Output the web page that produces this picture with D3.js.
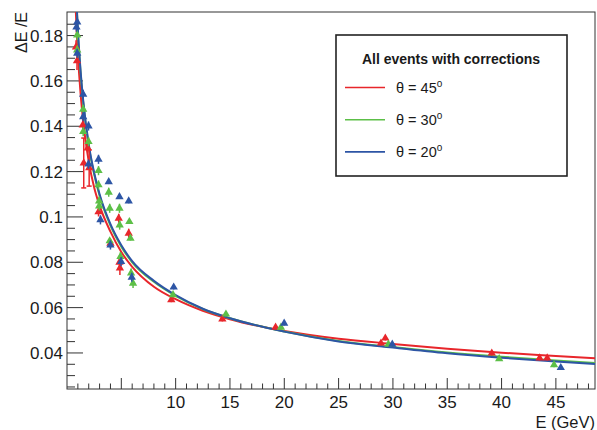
<!DOCTYPE html>
<html>
<head>
<meta charset="utf-8">
<script src="https://cdn.jsdelivr.net/npm/d3@7"></script>
<style>
  body { margin: 0; background: #fff; }
  text { font-family: "Liberation Sans", Arial, sans-serif; fill: #1a1a1a; }
</style>
</head>
<body>
<svg id="chart" width="597" height="430"></svg>
<script>
// measured points, theta = 45 / 30 / 20 deg
const energy45 = [0.83, 0.92, 1.45, 1.91, 1.54, 2.04, 2.9, 4.76, 5.68, 4.0, 4.83, 4.87, 9.6, 14.3, 19.2, 29.3, 28.9, 39.1, 43.5, 44.2];
const reso45 = [0.1749, 0.1688, 0.1405, 0.1304, 0.1238, 0.1216, 0.1022, 0.0994, 0.0928, 0.0884, 0.0800, 0.0774, 0.0634, 0.0549, 0.0513, 0.0465, 0.0443, 0.0399, 0.0377, 0.0377];
const err45 = [0.003, 0.004, 0.002, 0.002, 0.011, 0.008, 0.002, 0.002, 0.002, 0.002, 0.003, 0.003, 0.001, 0.001, 0.001, 0.001, 0.001, 0.001, 0.001, 0.001];

const energy30 = [0.94, 0.94, 1.49, 1.49, 1.98, 2.9, 2.9, 3.84, 2.96, 2.96, 3.93, 4.83, 5.74, 4.85, 5.84, 3.93, 4.92, 5.9, 6.08, 9.76, 14.63, 19.69, 29.58, 39.78, 44.83];
const reso30 = [0.1802, 0.1736, 0.1475, 0.1376, 0.1332, 0.1204, 0.1141, 0.1109, 0.1070, 0.1048, 0.1038, 0.1038, 0.0979, 0.0964, 0.0906, 0.0894, 0.0825, 0.0752, 0.0707, 0.0656, 0.0571, 0.0513, 0.0438, 0.0374, 0.0347];
const err30 = [0.002, 0.002, 0.002, 0.002, 0.002, 0.002, 0.002, 0.002, 0.002, 0.002, 0.002, 0.002, 0.001, 0.002, 0.001, 0.001, 0.002, 0.002, 0.002, 0.001, 0.001, 0.001, 0.001, 0.001, 0.001];

const energy20 = [0.94, 0.87, 0.94, 1.49, 1.49, 1.98, 1.98, 2.9, 3.84, 4.83, 5.68, 3.08, 4.0, 4.98, 5.96, 9.82, 19.99, 29.94, 45.45];
const reso20 = [0.1860, 0.1837, 0.1722, 0.1541, 0.1442, 0.1401, 0.1233, 0.1254, 0.1155, 0.1089, 0.1070, 0.0987, 0.0876, 0.0803, 0.0734, 0.0690, 0.0531, 0.0438, 0.0335];
const err20 = [0.002, 0.002, 0.002, 0.002, 0.002, 0.002, 0.002, 0.002, 0.001, 0.001, 0.001, 0.002, 0.002, 0.002, 0.002, 0.001, 0.001, 0.001, 0.001];

// fitted curves
const curveEnergy = [0.75, 0.9, 1, 1.25, 1.5, 2, 2.5, 3, 4, 5, 6, 8, 10, 12.5, 15, 20, 25, 30, 35, 40, 45, 48.6];
const fit45 = [0.1978, 0.1809, 0.1719, 0.1545, 0.1418, 0.1245, 0.1130, 0.1050, 0.0935, 0.0845, 0.0780, 0.0692, 0.0637, 0.0586, 0.0549, 0.0497, 0.0463, 0.0440, 0.0419, 0.0401, 0.0387, 0.0377];
const fit30 = [0.2095, 0.1915, 0.1818, 0.1637, 0.1502, 0.1312, 0.1188, 0.1093, 0.0962, 0.0869, 0.0800, 0.0714, 0.0652, 0.0594, 0.0553, 0.0495, 0.0453, 0.0426, 0.0402, 0.0383, 0.0367, 0.0356];
const fit20 = [0.2106, 0.1925, 0.1828, 0.1645, 0.1510, 0.1320, 0.1195, 0.1100, 0.0968, 0.0875, 0.0805, 0.0718, 0.0655, 0.0595, 0.0553, 0.0494, 0.0451, 0.0424, 0.0399, 0.0379, 0.0362, 0.0351];

const xTicks = [10, 15, 20, 25, 30, 35, 40, 45];
const yTicks = [0.04, 0.06, 0.08, 0.1, 0.12, 0.14, 0.16, 0.18];
const legendTitle = 'All events with corrections';
const legendAngles = ['45', '30', '20'];

const colors = ['#e8262b', '#5cbf47', '#2d55a5'];

const frame = { left: 67, right: 595, top: 12, bottom: 389 };
const svg = d3.select('#chart');

const x = d3.scaleLinear().domain([0, 48.6]).range([frame.left, frame.right]);
const y = d3.scaleLinear().domain([0.0241, 0.1904]).range([frame.bottom, frame.top]);

svg.append('defs').append('clipPath').attr('id', 'plot-clip')
  .append('rect')
  .attr('x', frame.left).attr('y', frame.top)
  .attr('width', frame.right - frame.left).attr('height', frame.bottom - frame.top);

// axes with ROOT-style inward ticks
const axisColor = '#333';
const yTickLen = 16;
const xTickLen = 11;

const xMinor = d3.range(1, 49);
svg.append('g').selectAll('line')
  .data(xMinor)
  .join('line')
  .attr('x1', (d) => x(d)).attr('x2', (d) => x(d))
  .attr('y1', frame.bottom)
  .attr('y2', (d) => frame.bottom - (d % 5 === 0 ? xTickLen : xTickLen / 2))
  .attr('stroke', axisColor);

const yMinor = d3.range(0.025, 0.19, 0.005);
svg.append('g').selectAll('line')
  .data(yMinor)
  .join('line')
  .attr('y1', (d) => y(d)).attr('y2', (d) => y(d))
  .attr('x1', frame.left)
  .attr('x2', (d) => frame.left + (Math.abs(Math.round(d * 1000) % 20) === 0 ? yTickLen : yTickLen / 2))
  .attr('stroke', axisColor);

svg.append('g').selectAll('text')
  .data(xTicks)
  .join('text')
  .attr('x', (d) => x(d))
  .attr('y', 408)
  .attr('text-anchor', 'middle')
  .attr('font-size', 17)
  .text((d) => d);

svg.append('g').selectAll('text')
  .data(yTicks)
  .join('text')
  .attr('x', 63)
  .attr('y', (d) => y(d) + 6)
  .attr('text-anchor', 'end')
  .attr('font-size', 17)
  .text((d) => d3.format('')(d));

svg.append('rect')
  .attr('x', frame.left).attr('y', frame.top)
  .attr('width', frame.right - frame.left).attr('height', frame.bottom - frame.top)
  .attr('fill', 'none')
  .attr('stroke', axisColor);

svg.append('text')
  .attr('x', 595).attr('y', 428)
  .attr('text-anchor', 'end')
  .attr('font-size', 16.5)
  .text('E (GeV)');

svg.append('text')
  .attr('transform', 'translate(27,12) rotate(-90)')
  .attr('text-anchor', 'end')
  .attr('font-size', 16)
  .text('ΔE /E');

// curves
const plot = svg.append('g').attr('clip-path', 'url(#plot-clip)');
const line = d3.line()
  .x((d) => x(d[0]))
  .y((d) => y(d[1]))
  .curve(d3.curveMonotoneX);

[fit45, fit30, fit20].forEach((fit, i) => {
  plot.append('path')
    .datum(curveEnergy.map((e, k) => [e, fit[k]]))
    .attr('d', line)
    .attr('fill', 'none')
    .attr('stroke', colors[i])
    .attr('stroke-width', 2);
});

// points with error bars
const triangle = d3.symbol().type(d3.symbolTriangle).size(30);
const series = [
  [energy45, reso45, err45],
  [energy30, reso30, err30],
  [energy20, reso20, err20],
];

series.forEach(([energies, resos, errs], i) => {
  const pts = energies.map((e, k) => ({ e, v: resos[k], err: errs[k] }));
  const g = plot.append('g');
  const bars = g.selectAll('g.bar').data(pts).join('g').attr('class', 'bar');
  bars.append('line')
    .attr('x1', (d) => x(d.e)).attr('x2', (d) => x(d.e))
    .attr('y1', (d) => y(d.v - d.err)).attr('y2', (d) => y(d.v + d.err))
    .attr('stroke', colors[i]).attr('stroke-width', 1.5);
  bars.filter((d) => d.err > 0.004).each(function caps(d) {
    const b = d3.select(this);
    [d.v - d.err, d.v + d.err].forEach((val) => {
      b.append('line')
        .attr('x1', x(d.e) - 2.5).attr('x2', x(d.e) + 2.5)
        .attr('y1', y(val)).attr('y2', y(val))
        .attr('stroke', colors[i]).attr('stroke-width', 1.5);
    });
  });
  g.selectAll('path.marker')
    .data(pts)
    .join('path')
    .attr('class', 'marker')
    .attr('d', triangle)
    .attr('transform', (d) => `translate(${x(d.e)},${y(d.v)})`)
    .attr('fill', colors[i]);
});

// legend
const legend = svg.append('g');
legend.append('rect')
  .attr('x', 336).attr('y', 35)
  .attr('width', 231).attr('height', 141)
  .attr('fill', '#fff')
  .attr('stroke', '#222')
  .attr('stroke-width', 1.6);
legend.append('text')
  .attr('x', 451).attr('y', 64)
  .attr('text-anchor', 'middle')
  .attr('font-size', 14)
  .attr('font-weight', 'bold')
  .text(legendTitle);

legendAngles.forEach((angle, i) => {
  const ly = 87.5 + i * 32.2;
  legend.append('line')
    .attr('x1', 345).attr('x2', 385)
    .attr('y1', ly).attr('y2', ly)
    .attr('stroke', colors[i]).attr('stroke-width', 1.6);
  const t = legend.append('text')
    .attr('x', 396).attr('y', ly + 5.5)
    .attr('font-size', 14.5);
  t.append('tspan').text(`θ = ${angle}`);
  t.append('tspan').attr('dy', -6).attr('font-size', 10).text('o');
});
</script>
</body>
</html>
